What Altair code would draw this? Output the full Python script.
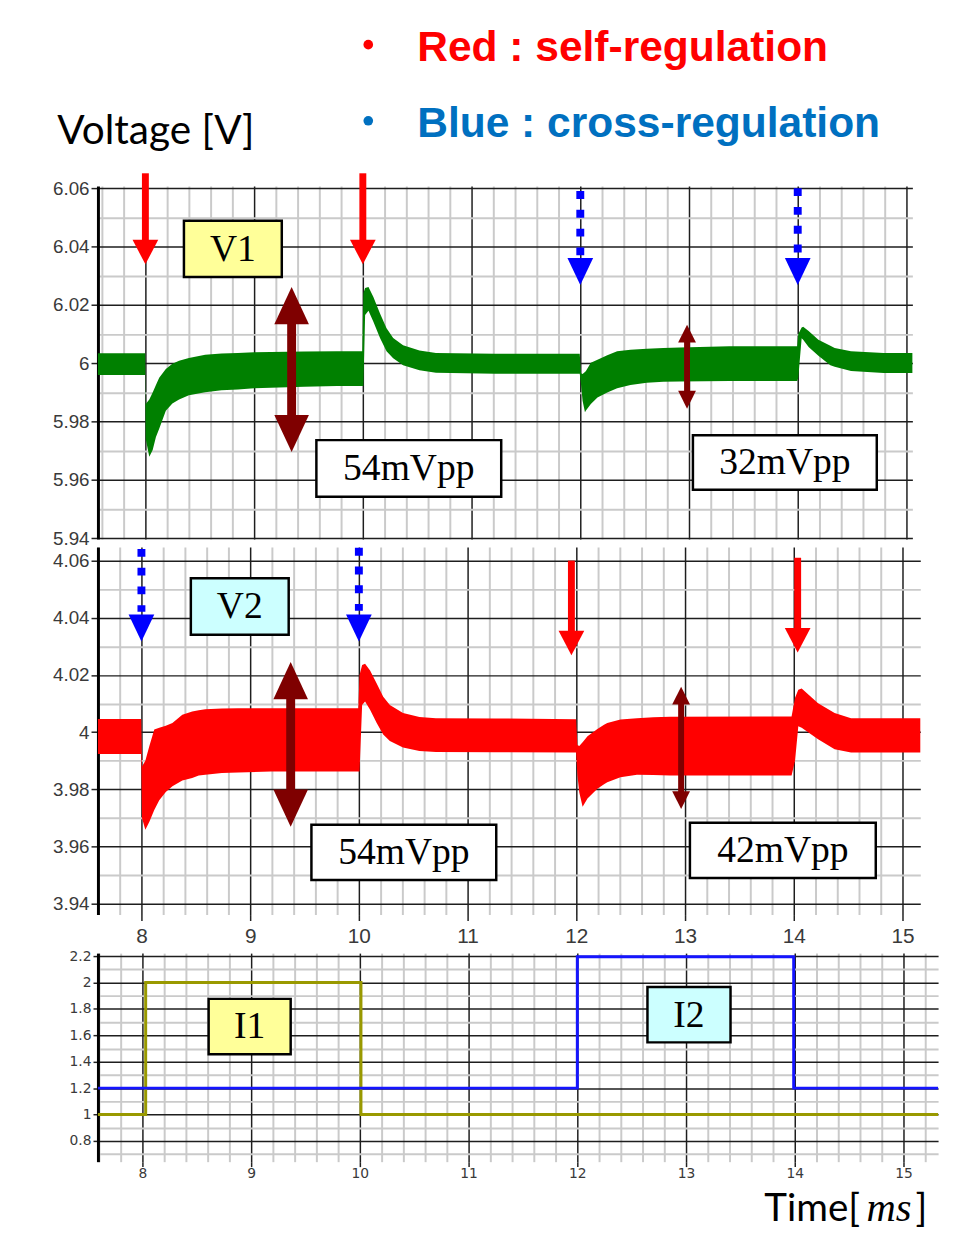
import altair as alt
import pandas as pd

# ---------------- waveform data ----------------
# V1 (green) ripple band: time [ms], lower / upper envelope [V]
V1_T = [7.5636, 7.998, 8.003, 8.036, 8.067, 8.097, 8.127, 8.188, 8.248, 8.31, 8.40, 8.55, 8.70,
        8.85, 9.0, 9.46, 9.76, 9.995, 10.005, 10.021, 10.052, 10.097, 10.158, 10.218, 10.279,
        10.370, 10.521, 10.673, 11.218, 11.995, 12.006, 12.021, 12.043, 12.052, 12.097, 12.158,
        12.248, 12.339, 12.461, 12.612, 12.764, 12.915, 13.37, 13.995, 14.005, 14.036, 14.05,
        14.10, 14.19, 14.30, 14.34, 14.49, 14.79, 15.0545]
V1_LO = [5.9959, 5.9959, 5.9740, 5.9679, 5.9702, 5.9747, 5.9775, 5.9837, 5.9862, 5.9875, 5.9890,
         5.9900, 5.9907, 5.9910, 5.9914, 5.9919, 5.9922, 5.9922, 5.9922, 6.0165, 6.0180, 6.0142,
         6.0086, 6.0041, 6.0017, 5.9993, 5.9976, 5.9967, 5.9964, 5.9964, 5.9930, 5.9871, 5.9832,
         5.9838, 5.9860, 5.9882, 5.9899, 5.9914, 5.9925, 5.9933, 5.9936, 5.9937, 5.9939, 5.9939,
         5.9950, 6.0085, 6.0080, 6.0055, 6.0025, 5.9993, 5.9988, 5.9973, 5.9966, 5.9966]
V1_HI = [6.0034, 6.0034, 5.9860, 5.9875, 5.9899, 5.9925, 5.9950, 5.9980, 5.9998, 6.0008, 6.0018,
         6.0029, 6.0033, 6.0035, 6.0037, 6.0040, 6.0041, 6.0041, 6.0240, 6.0258, 6.0261, 6.0227,
         6.0170, 6.0120, 6.0086, 6.0061, 6.0043, 6.0035, 6.0032, 6.0032, 5.9965, 5.9963, 5.9970,
         5.9973, 6.0001, 6.0012, 6.0027, 6.0041, 6.0046, 6.0049, 6.0052, 6.0054, 6.0058, 6.0058,
         6.0100, 6.0122, 6.0125, 6.0110, 6.0080, 6.0060, 6.0052, 6.0041, 6.0035, 6.0035]

# V2 (red) ripple band
V2_T = [7.6, 7.998, 8.005, 8.036, 8.073, 8.118, 8.164, 8.224, 8.285, 8.376, 8.467, 8.527, 8.588,
        8.74, 8.89, 9.19, 9.995, 10.006, 10.03, 10.057, 10.103, 10.164, 10.224, 10.285, 10.406,
        10.557, 10.709, 11.255, 11.998, 12.01, 12.027, 12.058, 12.103, 12.194, 12.255, 12.285,
        12.406, 12.558, 12.709, 12.861, 13.98, 14.012, 14.042, 14.073, 14.224, 14.376, 14.527,
        15.164]
V2_LO = [3.9924, 3.9924, 3.9700, 3.9659, 3.9687, 3.9728, 3.9762, 3.9791, 3.9811, 3.9831, 3.9840,
         3.9848, 3.9851, 3.9857, 3.9859, 3.9862, 3.9862, 3.9862, 4.0095, 4.0107, 4.0078, 4.0032,
         3.9992, 3.9969, 3.9946, 3.9934, 3.9931, 3.9930, 3.9929, 3.9850, 3.9790, 3.9739, 3.9768,
         3.9802, 3.9818, 3.9825, 3.9842, 3.9851, 3.9850, 3.9848, 3.9848, 3.9900, 4.0021, 4.0015,
         3.9975, 3.9940, 3.9929, 3.9929]
V2_HI = [4.0046, 4.0046, 3.9880, 3.9900, 3.9952, 4.0009, 4.0015, 4.0022, 4.0032, 4.0061, 4.0072,
         4.0077, 4.0080, 4.0083, 4.0084, 4.0084, 4.0084, 4.0200, 4.0235, 4.0239, 4.0216, 4.0170,
         4.0124, 4.0095, 4.0067, 4.0053, 4.0049, 4.0048, 4.0045, 3.9955, 3.9952, 3.9965, 3.9986,
         4.0011, 4.0026, 4.0032, 4.0044, 4.0049, 4.0052, 4.0054, 4.0055, 4.0120, 4.0148, 4.0153,
         4.0101, 4.0067, 4.0049, 4.0049]

# load currents (step traces)
I1_T = [7.591, 8.03, 10.01, 15.318]
I1_V = [1.0, 2.0, 1.0, 1.0]
I2_T = [7.591, 12.0, 13.99, 15.318]
I2_V = [1.2, 2.195, 1.2, 1.2]

# ---------------- annotation anchors (data units) ----------------
V1_RED_T, V1_RED_TOP, V1_RED_END, V1_RED_TIP = [8.0, 10.0], [6.0651, 6.0651], [6.0380, 6.0380], [6.0339, 6.0339]
V1_BLUE_T, V1_BLUE_TOP, V1_BLUE_END, V1_BLUE_TIP = [12.0, 14.0], [6.0590, 6.0600], [6.0366, 6.0376], [6.0268, 6.0268]
V1_BIG_T, V1_BIG_UP, V1_BIG_DN = [9.345], [6.0261], [5.9695]
V1_BIG_S1, V1_BIG_S2 = [6.0220], [5.9736]
V1_SM_T, V1_SM_UP, V1_SM_DN = [12.982], [6.0132], [5.9844]
V1_SM_S1, V1_SM_S2 = [6.0108], [5.9868]

V2_BLUE_T, V2_BLUE_TOP, V2_BLUE_END, V2_BLUE_TIP = [8.0, 10.0], [4.0641, 4.0645], [4.0421, 4.0425], [4.0317, 4.0317]
V2_RED_T, V2_RED_TOP, V2_RED_END, V2_RED_TIP = [11.955, 14.036], [4.0600, 4.0610], [4.0314, 4.0324], [4.0269, 4.0279]
V2_BIG_T, V2_BIG_UP, V2_BIG_DN = [9.3727], [4.0245], [3.9669]
V2_BIG_S1, V2_BIG_S2 = [4.0203], [3.9710]
V2_SM_T, V2_SM_UP, V2_SM_DN = [12.964], [4.0159], [3.9731]
V2_SM_S1, V2_SM_S2 = [4.0134], [3.9755]

# boxes: label, t0, t1, v0, v1, fill
V1_BOXES = [("V1", 8.3545, 9.2545, 6.0295, 6.0488, "#ffff99"),
            ("54mVpp", 9.5727, 11.2727, 5.9542, 5.9736, "white"),
            ("32mVpp", 13.036, 14.727, 5.9566, 5.9753, "white")]
V2_BOXES = [("V2", 8.4545, 9.3545, 4.0341, 4.0538, "#ccffff"),
            ("54mVpp", 9.5636, 11.2636, 3.9483, 3.9676, "white"),
            ("42mVpp", 13.045, 14.7545, 3.9490, 3.9683, "white")]
I_BOXES = [("I1", 8.609, 9.3636, 1.457, 1.8764, "#ffff99"),
           ("I2", 12.645, 13.409, 1.5468, 1.9663, "#ccffff")]

GREEN, RED, DARKRED, BLUE, TXTBLUE, OLIVE, IBLUE = "#008000", "#ff0000", "#7f0000", "#0000ff", "#0070c0", "#999900", "#1515ff"

HEAD_DOWN_RED = "M-1,-1.9L1,-1.9L0,0Z"
HEAD_DOWN_BLUE = "M-1,-2.1L1,-2.1L0,0Z"
HEAD_BIG_UP = "M-1,2.15L1,2.15L0,0Z"
HEAD_BIG_DN = "M-1,-2.15L1,-2.15L0,0Z"
HEAD_SM_UP = "M-1,2L1,2L0,0Z"
HEAD_SM_DN = "M-1,-2L1,-2L0,0Z"


def grid_axis(orient, values, mult, labels=True, label_size=19, label_font="Liberation Sans",
              ticks=True, tick_size=7, domain=False, label_padding=2):
    test = f"abs(datum.value*{mult} - round(datum.value*{mult})) < 0.01"
    return alt.Axis(
        orient=orient, values=values, title=None, format="~g",
        labels=labels, labelExpr=f"({test}) ? datum.label : ''",
        labelFont=label_font, labelFontSize=label_size, labelColor="#3a3a3a",
        labelOverlap=False, labelFlush=False, labelPadding=label_padding,
        grid=True,
        gridColor={"condition": {"test": test, "value": "#1e1e1e"}, "value": "#cacaca"},
        gridWidth={"condition": {"test": test, "value": 1.5}, "value": 2},
        ticks=ticks, tickSize=tick_size, tickColor="#222", tickWidth=1.5,
        tickOpacity={"condition": {"test": test, "value": 1}, "value": 0},
        domain=domain, domainColor="black", domainWidth=3,
    )


def encoders(xdom, ydom, xaxis, yaxis):
    def X(f):
        return alt.X(f"{f}:Q", scale=alt.Scale(domain=xdom, nice=False, zero=False), axis=xaxis)

    def Y(f):
        return alt.Y(f"{f}:Q", scale=alt.Scale(domain=ydom, nice=False, zero=False), axis=yaxis)
    return X, Y


def band(X, Y, ts, lo, hi, color):
    df = pd.DataFrame({"t": ts, "lo": lo, "hi": hi})
    return alt.Chart(df).mark_area(color=color, opacity=1).encode(x=X("t"), y=Y("lo"), y2="hi")


def shaft(X, Y, ts, a, b, color, width, dash=None):
    df = pd.DataFrame({"t": ts, "a": a, "b": b})
    mk = dict(color=color, strokeWidth=width, strokeCap="butt")
    if dash:
        mk["strokeDash"] = dash
    return alt.Chart(df).mark_rule(**mk).encode(x=X("t"), y=Y("a"), y2="b")


def heads(X, Y, ts, tips, color, size, path):
    df = pd.DataFrame({"t": ts, "v": tips})
    return alt.Chart(df).mark_point(shape=path, size=size, filled=True, color=color,
                                    opacity=1, strokeWidth=0).encode(x=X("t"), y=Y("v"))


def boxes(X, Y, specs, size=38):
    df = pd.DataFrame({
        "label": [s[0] for s in specs], "t0": [s[1] for s in specs], "t1": [s[2] for s in specs],
        "v0": [s[3] for s in specs], "v1": [s[4] for s in specs], "fill": [s[5] for s in specs]})
    df["tc"] = (df.t0 + df.t1) / 2
    df["vc"] = (df.v0 + df.v1) / 2
    rect = alt.Chart(df).mark_rect(stroke="black", strokeWidth=2.5).encode(
        x=X("t0"), x2="t1", y=Y("v0"), y2="v1", fill=alt.Fill("fill:N", scale=None))
    text = alt.Chart(df).mark_text(font="Liberation Serif", fontSize=size, color="black",
                                   baseline="middle", align="center", dy=1).encode(
        x=X("tc"), y=Y("vc"), text="label:N")
    return [rect, text]


def label(X, Y, t, v, text, **mk):
    df = pd.DataFrame({"t": [t], "v": [v], "s": [text]})
    return alt.Chart(df).mark_text(**mk).encode(x=X("t"), y=Y("v"), text="s:N")


# ---------------- axes ----------------
XV_TOP = [round(7.6 + 0.2 * i, 1) for i in range(38)]
XV_MID = [round(7.6 + 0.2 * i, 1) for i in range(38)]
XV_BOT = [round(7.6 + 0.2 * i, 1) for i in range(39)]
YV_TOP = [round(5.94 + 0.01 * i, 2) for i in range(13)]
YV_MID = [round(3.94 + 0.01 * i, 2) for i in range(13)]
YV_BOT = [round(0.7 + 0.1 * i, 1) for i in range(16)]

# ---------------- top panel (V1) ----------------
X1, Y1 = encoders([7.5636, 15.0545], [5.9397, 6.0607],
                  grid_axis("bottom", XV_TOP, 1, labels=False, ticks=False),
                  grid_axis("left", YV_TOP, 50, domain=True))
top_layers = [
    band(X1, Y1, V1_T, V1_LO, V1_HI, GREEN),
    shaft(X1, Y1, V1_RED_T, V1_RED_TOP, V1_RED_END, RED, 7),
    heads(X1, Y1, V1_RED_T, V1_RED_TIP, RED, 676, HEAD_DOWN_RED),
    shaft(X1, Y1, V1_BLUE_T, V1_BLUE_TOP, V1_BLUE_END, BLUE, 8, dash=[8, 11]),
    heads(X1, Y1, V1_BLUE_T, V1_BLUE_TIP, BLUE, 676, HEAD_DOWN_BLUE),
    shaft(X1, Y1, V1_BIG_T, V1_BIG_S1, V1_BIG_S2, DARKRED, 9),
    heads(X1, Y1, V1_BIG_T, V1_BIG_UP, DARKRED, 1225, HEAD_BIG_UP),
    heads(X1, Y1, V1_BIG_T, V1_BIG_DN, DARKRED, 1225, HEAD_BIG_DN),
    shaft(X1, Y1, V1_SM_T, V1_SM_S1, V1_SM_S2, DARKRED, 6),
    heads(X1, Y1, V1_SM_T, V1_SM_UP, DARKRED, 324, HEAD_SM_UP),
    heads(X1, Y1, V1_SM_T, V1_SM_DN, DARKRED, 324, HEAD_SM_DN),
    *boxes(X1, Y1, V1_BOXES),
    label(X1, Y1, 7.19, 6.0753, "Voltage [V]", font="Lato", fontSize=41, color="black",
          align="left", baseline="alphabetic"),
    label(X1, Y1, 10.5, 6.1037, "Red : self-regulation", font="Liberation Sans", fontSize=43,
          fontWeight="bold", color=RED, align="left", baseline="alphabetic"),
    label(X1, Y1, 10.5, 6.0776, "Blue : cross-regulation", font="Liberation Sans", fontSize=43,
          fontWeight="bold", color=TXTBLUE, align="left", baseline="alphabetic"),
    heads(X1, Y1, [10.05], [6.1092], RED, 95, "circle"),
    heads(X1, Y1, [10.05], [6.0831], TXTBLUE, 95, "circle"),
]
top = alt.layer(*top_layers).properties(width=824, height=357)

# ---------------- middle panel (V2) ----------------
X2, Y2 = encoders([7.6, 15.164], [3.9362, 4.0648],
                  grid_axis("bottom", XV_MID, 1, label_size=21, tick_size=6, label_padding=5),
                  grid_axis("left", YV_MID, 50, domain=True))
mid_layers = [
    band(X2, Y2, V2_T, V2_LO, V2_HI, RED),
    shaft(X2, Y2, V2_BLUE_T, V2_BLUE_TOP, V2_BLUE_END, BLUE, 8, dash=[8, 11]),
    heads(X2, Y2, V2_BLUE_T, V2_BLUE_TIP, BLUE, 676, HEAD_DOWN_BLUE),
    shaft(X2, Y2, V2_RED_T, V2_RED_TOP, V2_RED_END, RED, 7),
    heads(X2, Y2, V2_RED_T, V2_RED_TIP, RED, 676, HEAD_DOWN_RED),
    shaft(X2, Y2, V2_BIG_T, V2_BIG_S1, V2_BIG_S2, DARKRED, 9),
    heads(X2, Y2, V2_BIG_T, V2_BIG_UP, DARKRED, 1225, HEAD_BIG_UP),
    heads(X2, Y2, V2_BIG_T, V2_BIG_DN, DARKRED, 1225, HEAD_BIG_DN),
    shaft(X2, Y2, V2_SM_T, V2_SM_S1, V2_SM_S2, DARKRED, 6),
    heads(X2, Y2, V2_SM_T, V2_SM_UP, DARKRED, 324, HEAD_SM_UP),
    heads(X2, Y2, V2_SM_T, V2_SM_DN, DARKRED, 324, HEAD_SM_DN),
    *boxes(X2, Y2, V2_BOXES),
]
mid = alt.layer(*mid_layers).properties(width=832, height=372)

# ---------------- bottom panel (currents) ----------------
X3, Y3 = encoders([7.591, 15.318], [0.6427, 2.2232],
                  grid_axis("bottom", XV_BOT, 1, label_size=14, label_font="DejaVu Sans",
                            tick_size=5, label_padding=0),
                  grid_axis("left", YV_BOT, 5, label_size=14, label_font="DejaVu Sans",
                            tick_size=5, domain=True))
i1 = pd.DataFrame({"t": I1_T, "v": I1_V})
i2 = pd.DataFrame({"t": I2_T, "v": I2_V})
bot_layers = [
    alt.Chart(i1).mark_line(color=OLIVE, strokeWidth=3, interpolate="step-after").encode(x=X3("t"), y=Y3("v")),
    alt.Chart(i2).mark_line(color=IBLUE, strokeWidth=3, interpolate="step-after").encode(x=X3("t"), y=Y3("v")),
    *boxes(X3, Y3, I_BOXES),
    label(X3, Y3, 13.72, 0.195, "Time[", font="Lato", fontSize=39, color="black",
          align="left", baseline="alphabetic"),
    label(X3, Y3, 14.66, 0.195, "ms", font="Liberation Serif", fontSize=41, fontStyle="italic",
          color="black", align="left", baseline="alphabetic"),
    label(X3, Y3, 15.11, 0.195, "]", font="Lato", fontSize=39, color="black",
          align="left", baseline="alphabetic"),
]
bot = alt.layer(*bot_layers).properties(width=850, height=211)

chart = alt.vconcat(
    alt.vconcat(top, mid, spacing=8, bounds="flush"),
    bot, spacing=1, bounds="full",
).properties(
    padding={"left": 44, "top": 11, "right": 0, "bottom": 0}
).configure_view(stroke="transparent")

chart.save("out.html", embed_options={"renderer": "svg", "actions": False})
